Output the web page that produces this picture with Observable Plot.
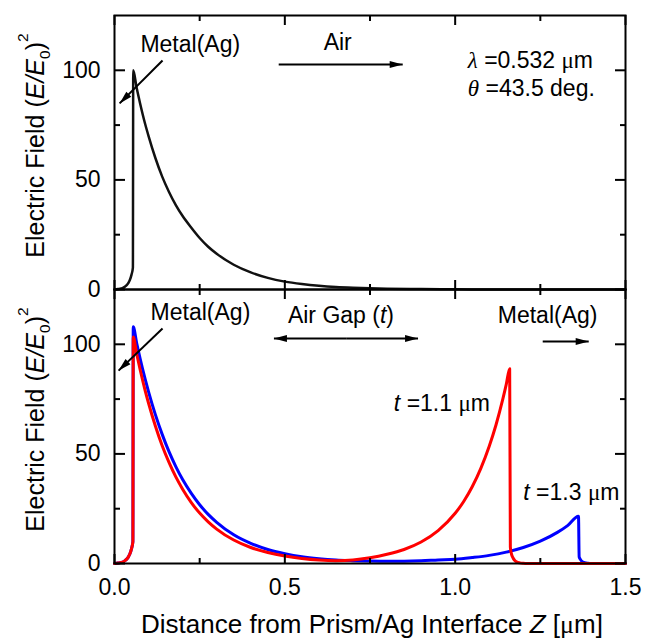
<!DOCTYPE html>
<html>
<head>
<meta charset="utf-8">
<script src="https://cdn.jsdelivr.net/npm/d3@7"></script>
<script src="https://cdn.jsdelivr.net/npm/@observablehq/plot@0.6"></script>
<style>
  html, body { margin: 0; padding: 0; background: #fff; }
  #fig { position: relative; width: 645px; height: 638px; }
  #fig svg { position: absolute; left: 0; background: transparent; overflow: visible; }
</style>
</head>
<body>
<div id="fig"></div>
<script>
// ---- Data ----
// Top panel: single Ag film / air
const zTop = [0,0.01,0.02,0.03,0.04,0.045,0.05,0.054,0.055,0.065,0.075,0.09,0.1,0.12,0.14,0.16,0.18,0.2,0.225,0.25,0.275,0.3,0.35,0.4,0.45,0.5,0.55,0.6,0.65,0.7,0.75,0.8,0.9,1.0,1.1,1.2,1.3,1.4,1.5];
const eTop = [0,0.2,0.5,1.2,2.8,4.3,6.8,10,100,92,85,75.5,70,60,51.5,44.5,38.5,33.5,28.3,23.5,19.5,16.3,11.3,7.8,5.3,3.6,2.5,1.7,1.15,0.8,0.55,0.38,0.18,0.08,0.04,0.02,0.01,0,0];

// Bottom panel: t = 1.3 µm (blue)
const zBlue = [0,0.01,0.02,0.03,0.04,0.045,0.05,0.054,0.055,0.065,0.075,0.09,0.1,0.12,0.14,0.16,0.18,0.2,0.225,0.25,0.275,0.3,0.35,0.4,0.45,0.5,0.55,0.6,0.65,0.7,0.75,0.8,0.85,0.9,0.95,1.0,1.05,1.1,1.15,1.2,1.25,1.3,1.33,1.362,1.364,1.367,1.372,1.38,1.39,1.4,1.5];
const eBlue = [0,0.2,0.5,1.2,2.8,4.3,6.8,10,108,100.6,93.6,84.1,78.3,67.9,58.9,51.0,44.2,38.3,32.1,26.8,22.4,18.8,13.1,9.2,6.4,4.5,3.1,2.2,1.6,1.3,1.1,1.0,1.05,1.25,1.6,1.9,2.7,3.7,5.2,7.3,10.2,14.2,17.3,21.6,3,2,1,0.4,0.1,0,0];

// Bottom panel: t = 1.1 µm (red)
const zRed = [0,0.01,0.02,0.03,0.04,0.045,0.05,0.054,0.055,0.065,0.075,0.09,0.1,0.12,0.14,0.16,0.18,0.2,0.225,0.25,0.275,0.3,0.35,0.4,0.45,0.5,0.55,0.6,0.65,0.7,0.75,0.8,0.85,0.9,0.95,1.0,1.025,1.05,1.075,1.1,1.12,1.14,1.15,1.16,1.162,1.165,1.17,1.175,1.18,1.19,1.2,1.21,1.5];
const eRed = [0,0.2,0.5,1.2,2.8,4.3,6.8,10,103.3,95.7,88.6,78.9,73.1,62.7,53.7,46.1,39.5,33.9,27.9,23.0,19.0,15.7,10.7,7.3,5.0,3.4,2.3,1.6,1.3,1.6,2.6,4.2,6.4,9.8,15.0,22.9,28.3,35,43.3,53.5,63.3,75.1,81.7,88.9,7.5,4.5,2.5,1.4,0.8,0.3,0.1,0,0];

// Axis ticks
const xMajor = [0, 0.5, 1.0, 1.5];
const xMinor = [0.25, 0.75, 1.25];
const yMajor = [0, 50, 100];
const yMinor = [25, 75];

// Texts
const yTitle = "Electric Field (<i>E/E</i><sub>0</sub>)<sup>2</sup>";
const xTitle = "Distance from Prism/Ag Interface <i>Z</i> [<g>μ</g>m]";

// Annotations (data coordinates)
const topLabels = ["Metal(Ag)", "Air", "<gi>λ</gi> =0.532 <g>μ</g>m", "<gi>θ</gi> =43.5 deg."];
const topLabelX = [0.076, 0.614, 1.037, 1.037];
const topLabelY = [111.8, 112.7, 104.5, 91.7];
const topArrows = [
  {x1: 0.141, y1: 104.5, x2: 0.015, y2: 84.9},
  {x1: 0.482, y1: 102.6, x2: 0.846, y2: 102.6}
];

const botLabels = ["Metal(Ag)", "Air Gap (<i>t</i>)", "Metal(Ag)", "<i>t</i> =1.1 <g>μ</g>m", "<i>t</i> =1.3 <g>μ</g>m"];
const botLabelX = [0.106, 0.509, 1.125, 0.82, 1.2];
const botLabelY = [114.5, 113.1, 113.1, 73, 32.4];
const botArrows = [
  {x1: 0.141, y1: 107.2, x2: 0.012, y2: 88.0},
  {x1: 0.68, y1: 102.6, x2: 0.468, y2: 102.6},
  {x1: 0.68, y1: 102.6, x2: 0.891, y2: 102.6},
  {x1: 1.257, y1: 101.3, x2: 1.392, y2: 101.3}
];

// ---- Build ----
const toRows = (zs, es) => zs.map((z, i) => ({z, e: es[i]}));
const topData = toRows(zTop, eTop);
const blueData = toRows(zBlue, eBlue);
const redData = toRows(zRed, eRed);

const FONT = "'Liberation Sans', Arial, Helvetica, sans-serif";
const W = 645, ML = 114, MR = 20, PH = 274; // plot area geometry
const X_DOMAIN = [0, 1.5], Y_DOMAIN = [0, 125];
const kx = (W - ML - MR) / (X_DOMAIN[1] - X_DOMAIN[0]);
const ky = PH / (Y_DOMAIN[1] - Y_DOMAIN[0]);

function frameAxes(withXLabels) {
  const blank = () => "";
  const tk = {strokeWidth: 2, label: null, tickFormat: blank};
  return [
    // inward ticks on all four sides
    Plot.axisY(yMajor, {...tk, anchor: "right", frameAnchor: "left", tickSize: 10}),
    Plot.axisY(yMinor, {...tk, anchor: "right", frameAnchor: "left", tickSize: 5}),
    Plot.axisY(yMajor, {...tk, anchor: "left", frameAnchor: "right", tickSize: 10}),
    Plot.axisY(yMinor, {...tk, anchor: "left", frameAnchor: "right", tickSize: 5}),
    Plot.axisX(xMajor, {...tk, anchor: "top", frameAnchor: "bottom", tickSize: 10}),
    Plot.axisX(xMinor, {...tk, anchor: "top", frameAnchor: "bottom", tickSize: 6}),
    Plot.axisX(xMajor, {...tk, anchor: "bottom", frameAnchor: "top", tickSize: 10}),
    Plot.axisX(xMinor, {...tk, anchor: "bottom", frameAnchor: "top", tickSize: 6}),
    // tick labels
    Plot.axisY(yMajor, {anchor: "left", tickSize: 0, tickPadding: 14, label: null, fontSize: 23}),
    withXLabels ? Plot.axisX(xMajor, {anchor: "bottom", tickSize: 0, tickPadding: 15, tickFormat: d3.format(".1f"), label: null, fontSize: 23}) : null,
    Plot.frame({stroke: "#000", strokeWidth: 2})
  ];
}

// narrow filled arrowhead, tip at origin, pointing "up" before rotation
const headSymbol = {
  draw(context) {
    context.moveTo(0, 0);
    context.lineTo(-3.5, 13);
    context.lineTo(3.5, 13);
    context.closePath();
  }
};
const headAngle = a => Math.atan2((a.x2 - a.x1) * kx, (a.y2 - a.y1) * ky) * 180 / Math.PI;

function annotations(labels, lx, ly, arrows) {
  return [
    Plot.text(labels, {x: (d, i) => lx[i], y: (d, i) => ly[i], text: d => d, textAnchor: "start", lineAnchor: "middle", fontSize: 23, fill: "#000"}),
    Plot.link(arrows, {x1: "x1", y1: "y1", x2: "x2", y2: "y2", stroke: "#000", strokeWidth: 2}),
    Plot.dot(arrows, {x: "x2", y: "y2", symbol: headSymbol, fill: "#000", stroke: "none", rotate: headAngle})
  ];
}

const yTitleMark = Plot.text([yTitle], {frameAnchor: "left", rotate: -90, dx: -71, dy: -7, textAnchor: "middle", lineAnchor: "bottom", fontSize: 25, fill: "#000"});

const common = {
  width: W,
  marginLeft: ML,
  marginRight: MR,
  x: {domain: X_DOMAIN},
  y: {domain: Y_DOMAIN},
  style: {fontFamily: FONT, fontSize: "23px", background: "transparent", overflow: "visible", color: "#000"}
};

const topPlot = Plot.plot({
  ...common,
  height: 15 + PH + 2,
  marginTop: 15,
  marginBottom: 2,
  marks: [
    Plot.line(topData, {x: "z", y: "e", stroke: "#111", strokeWidth: 2.5, curve: "monotone-x"}),
    ...annotations(topLabels, topLabelX, topLabelY, topArrows),
    yTitleMark,
    ...frameAxes(false)
  ]
});

const botPlot = Plot.plot({
  ...common,
  height: 10 + PH + 75,
  marginTop: 10,
  marginBottom: 75,
  marks: [
    Plot.line(blueData, {x: "z", y: "e", stroke: "#0000ff", strokeWidth: 3, curve: "monotone-x"}),
    Plot.line(redData, {x: "z", y: "e", stroke: "#ff0000", strokeWidth: 3, curve: "monotone-x"}),
    ...annotations(botLabels, botLabelX, botLabelY, botArrows),
    yTitleMark,
    Plot.text([xTitle], {frameAnchor: "bottom", dy: 69, dx: 2, textAnchor: "middle", lineAnchor: "bottom", fontSize: 26, fill: "#000"}),
    ...frameAxes(true)
  ]
});

const fig = document.getElementById("fig");
topPlot.style.top = "0px";
botPlot.style.top = "279px";
fig.appendChild(topPlot);
fig.appendChild(botPlot);

// Rich text: italics, Greek (serif), sub/superscripts as tspans
function enrich(root) {
  const NS = "http://www.w3.org/2000/svg";
  const SERIF = "'Liberation Serif', 'Times New Roman', serif";
  root.querySelectorAll("text").forEach(el => {
    const s = el.textContent;
    if (!/<(i|gi|g|sub|sup)>/.test(s)) return;
    const fs = parseFloat(getComputedStyle(el).fontSize) || 22;
    el.textContent = "";
    let cur = 0;
    const add = (txt, type) => {
      if (!txt) return;
      const t = document.createElementNS(NS, "tspan");
      let target = 0;
      if (type === "sub") { target = 0.25 * fs; t.setAttribute("font-size", 0.62 * fs); }
      if (type === "sup") { target = -0.62 * fs; t.setAttribute("font-size", 0.62 * fs); }
      if (type === "i") t.setAttribute("font-style", "italic");
      if (type === "gi") { t.setAttribute("font-style", "italic"); t.setAttribute("font-family", SERIF); }
      if (type === "g") t.setAttribute("font-family", SERIF);
      if (target !== cur) { t.setAttribute("dy", target - cur); cur = target; }
      t.textContent = txt;
      el.appendChild(t);
    };
    const re = /<(i|gi|g|sub|sup)>(.*?)<\/\1>/g;
    let last = 0, m;
    while ((m = re.exec(s))) { add(s.slice(last, m.index), null); add(m[2], m[1]); last = re.lastIndex; }
    add(s.slice(last), null);
  });
}
enrich(fig);
</script>
</body>
</html>
